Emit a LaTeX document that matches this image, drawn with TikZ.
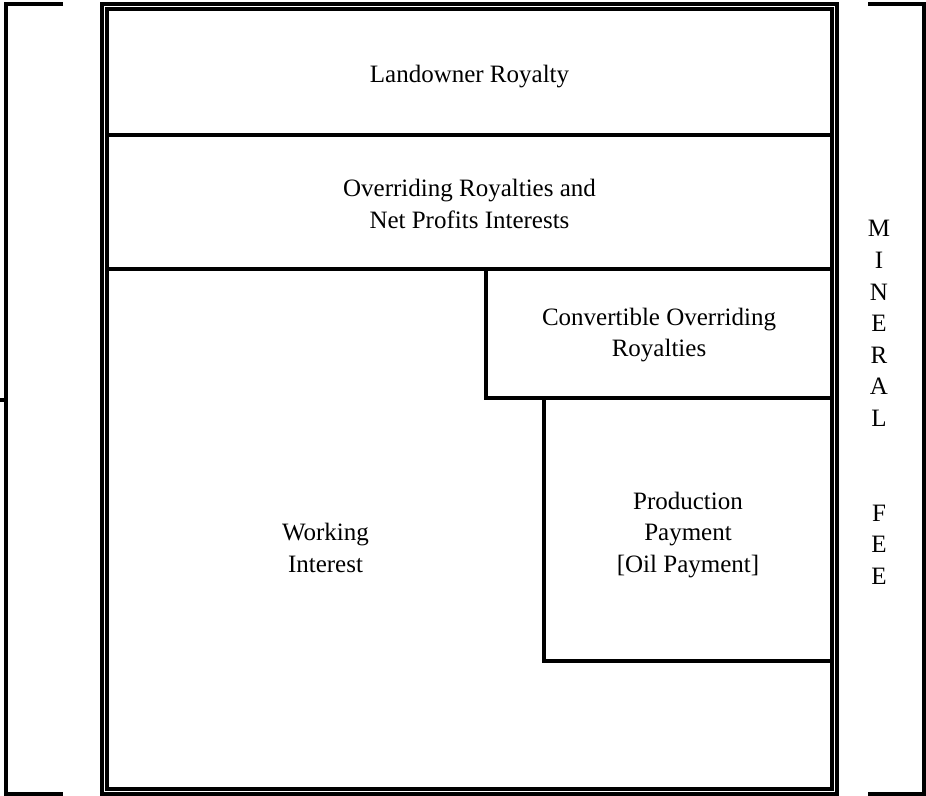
\documentclass[tikz,border=0pt]{standalone}
\usepackage{fontspec}
\setmainfont{Liberation Serif}
\begin{document}
\begin{tikzpicture}[x=1pt,y=-1pt,line width=4pt,
  lbl/.style={font=\fontsize{25}{31.6}\selectfont,align=center,inner sep=0pt},
  rule/.style={draw=black,line width=4pt}]
\useasboundingbox (0,0) rectangle (926,795);
% brackets
\draw[rule] (63,4) -- (6,4) -- (6,793.5) -- (63,793.5);
\draw[rule] (0,400) -- (6,400);
\draw[rule] (868,4) -- (924,4) -- (924,793.5) -- (868,793.5);
% double border
\draw[rule] (102,4) rectangle (837,793.5);
\draw[rule] (107,9) rectangle (832,788.5);
% dividers
\draw[rule] (107,135.3) -- (832,135.3);
\draw[rule] (107,268.7) -- (832,268.7);
\draw[rule] (486,268.7) -- (486,397.7) -- (832,397.7);
\draw[rule] (543.7,397.7) -- (543.7,660.7) -- (832,660.7);
% labels
\node[lbl,anchor=base] (land) at (469.5,82) {Landowner Royalty};
\node[lbl] (over) at (469.5,203.7) {Overriding Royalties and\\Net Profits Interests};
\node[lbl] (conv) at (659,335.2) {Convertible Overriding\\Royalties};
\node[lbl] (prod) at (688,534.7) {Production\\Payment\\{[Oil Payment]}};
\node[lbl] (work) at (325.5,548.2) {Working\\Interest};
\node[lbl] (fee) at (879,402.5) {M\\I\\N\\E\\R\\A\\L\\{}\\{}\\F\\E\\E};
\end{tikzpicture}
\end{document}
